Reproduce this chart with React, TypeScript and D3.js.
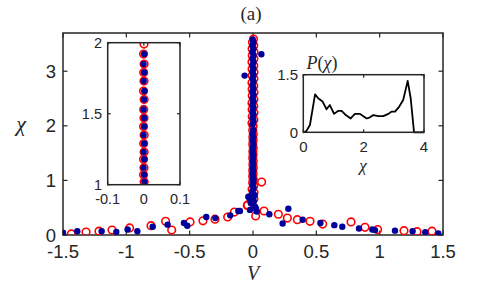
import React, { useEffect } from 'react';
import * as d3 from 'd3';

// scattered points (V, chi) away from the central column
const redScatter: [number, number][] = [
  [-1.434, 0.02], [-1.318, 0.055], [-1.216, 0.07], [-1.113, 0.09], [-0.974, 0.13],
  [-0.805, 0.17], [-0.69, 0.25], [-0.642, 0.09], [-0.497, 0.24], [-0.395, 0.26],
  [-0.3, 0.29], [-0.2, 0.33], [-0.147, 0.42], [-0.045, 0.54], [-0.042, 0.55],
  [0.021, 0.35], [0.068, 0.97], [0.087, 0.44], [0.2, 0.38], [0.271, 0.31],
  [0.35, 0.28], [0.45, 0.25], [0.55, 0.2], [0.774, 0.24], [0.884, 0.14],
  [0.984, 0.1], [1.192, 0.08], [1.295, 0.06], [1.413, 0.07],
];

const blueScatter: [number, number][] = [
  [-1.5, 0.04], [-1.387, 0.07], [-1.195, 0.07], [-1.079, 0.055], [-0.99, 0.1],
  [-0.913, 0.07], [-0.792, 0.15], [-0.674, 0.19], [-0.545, 0.22], [-0.519, 0.17],
  [-0.369, 0.33], [-0.297, 0.31], [-0.18, 0.36], [-0.116, 0.44], [-0.103, 0.44],
  [-0.037, 0.7], [0.003, 0.7], [-0.016, 0.58], [0.016, 0.52], [-0.024, 0.46],
  [0.03, 0.43], [-0.024, 0.65], [0.013, 0.73], [0.024, 0.48], [-0.066, 2.92],
  [0.066, 3.31], [0.129, 0.38], [0.234, 0.21], [0.279, 0.48], [0.392, 0.28],
  [0.532, 0.22], [0.642, 0.18], [0.705, 0.15], [0.837, 0.12], [0.942, 0.1],
  [0.963, 0.09], [1.121, 0.08], [1.26, 0.07], [1.36, 0.05], [1.463, 0.03],
];

// central column at V ~ 0
const colChiRed = [
  0.6, 0.66, 0.72, 0.78, 0.84, 0.9, 0.96, 1.02, 1.07, 1.12, 1.18, 1.23, 1.29, 1.35,
  1.41, 1.47, 1.53, 1.6, 1.66, 1.73, 1.79, 1.85, 1.92, 1.99, 2.05, 2.11, 2.17, 2.24,
  2.3, 2.36, 2.42, 2.48, 2.55, 2.61, 2.67, 2.73, 2.79, 2.86, 2.92, 2.98, 3.04, 3.1,
  3.17, 3.23, 3.29, 3.35, 3.41, 3.47, 3.53, 3.59,
];
const colVRed = [
  -0.008, 0.007, -0.006, 0.008, -0.007, 0.006, -0.003, 0.002, -0.002, 0.001, -0.002,
  0.002, -0.001, 0.002, -0.002, 0.001, -0.001, 0.002, -0.002, 0.001, -0.001, 0.002,
  -0.002, 0.001, -0.008, 0.007, -0.006, 0.008, -0.007, 0.006, -0.008, 0.007, -0.006,
  0.008, -0.007, 0.006, -0.008, 0.007, -0.006, 0.008, -0.007, 0.006, -0.008, 0.007,
  -0.006, 0.008, -0.007, 0.006, -0.004, 0.004,
];
const colChiBlue = [
  0.62, 0.68, 0.74, 0.8, 0.86, 0.92, 0.97, 1.02, 1.07, 1.12, 1.18, 1.23, 1.29, 1.35,
  1.41, 1.47, 1.53, 1.6, 1.66, 1.73, 1.79, 1.85, 1.92, 2.03, 2.09, 2.15, 2.21, 2.27,
  2.33, 2.39, 2.45, 2.51, 2.57, 2.63, 2.69, 2.75, 2.81, 2.87, 2.93, 2.99, 3.05, 3.11,
  3.17, 3.23, 3.29, 3.35, 3.41, 3.47, 3.53, 3.58,
];
const colVBlue = [
  0.006, -0.005, 0.004, -0.006, 0.005, -0.003, 0.002, 0.003, 0.001, -0.002, 0.002,
  -0.001, 0.002, -0.002, 0.001, 0.002, -0.002, 0.001, 0.003, -0.001, 0.002, -0.002,
  0.002, -0.004, 0.004, -0.003, 0.004, -0.004, 0.003, -0.004, 0.004, -0.003, 0.004,
  -0.004, 0.003, -0.004, 0.004, -0.003, 0.004, -0.004, 0.003, -0.004, 0.004, -0.003,
  0.004, -0.004, 0.003, -0.004, 0.003, -0.002,
];

// distribution P(chi)
const distChi = [
  0, 0.1, 0.22, 0.39, 0.5, 0.64, 0.77, 0.88, 1.02, 1.16, 1.27, 1.41, 1.57, 1.71, 1.88,
  1.99, 2.1, 2.21, 2.32, 2.49, 2.65, 2.82, 2.93, 3.04, 3.18, 3.31, 3.46, 3.56, 3.67, 4,
];
const distP = [
  0, 0.03, 0.19, 0.99, 0.88, 0.8, 0.6, 0.71, 0.48, 0.56, 0.56, 0.45, 0.36, 0.48, 0.48,
  0.42, 0.36, 0.39, 0.45, 0.42, 0.42, 0.48, 0.54, 0.54, 0.67, 0.84, 1.34, 0.88, 0, 0,
];

const mainXTicks = [-1.5, -1, -0.5, 0, 0.5, 1, 1.5];
const mainYTicks = [0, 1, 2, 3];
const zoomXTicks = [-0.1, 0, 0.1];
const zoomYTicks = [1, 1.5, 2];
const distXTicks = [0, 2, 4];
const distYTicks = [0, 1.5];

const AX = '#262626';
const RED = '#ff0000';
const BLUE = '#00009a';
const SANS = '"Liberation Sans", Arial, Helvetica, sans-serif';
const SERIF = '"Liberation Serif", "DejaVu Serif", serif';

const redCol: [number, number][] = colChiRed.map((c, i) => [colVRed[i], c]);
const blueCol: [number, number][] = colChiBlue.map((c, i) => [colVBlue[i], c]);

type Lin = d3.ScaleLinear<number, number>;

const Frame = ({ x, y, xt, yt, fs, tl, xlY, ylX, fill }: {
  x: Lin; y: Lin; xt: number[]; yt: number[]; fs: number; tl: number;
  xlY: number; ylX: number; fill?: string;
}) => {
  const [x0, x1] = x.range();
  const [y0, y1] = y.range();
  return (
    <g>
      <rect x={x0} y={y1} width={x1 - x0} height={y0 - y1} fill={fill || 'none'}
        stroke={AX} strokeWidth={1.5} />
      {xt.map(t => (
        <g key={'x' + t}>
          <line x1={x(t)} x2={x(t)} y1={y0} y2={y0 - tl} stroke={AX} strokeWidth={1.2} />
          <line x1={x(t)} x2={x(t)} y1={y1} y2={y1 + tl} stroke={AX} strokeWidth={1.2} />
          <text x={x(t)} y={xlY} textAnchor="middle" fontSize={fs} fill={AX}
            fontFamily={SANS}>{String(t)}</text>
        </g>
      ))}
      {yt.map(t => (
        <g key={'y' + t}>
          <line x1={x0} x2={x0 + tl} y1={y(t)} y2={y(t)} stroke={AX} strokeWidth={1.2} />
          <line x1={x1} x2={x1 - tl} y1={y(t)} y2={y(t)} stroke={AX} strokeWidth={1.2} />
          <text x={ylX} y={y(t)} dy="0.36em" textAnchor="end" fontSize={fs} fill={AX}
            fontFamily={SANS}>{String(t)}</text>
        </g>
      ))}
    </g>
  );
};

const App = () => {
  useEffect(() => {
    document.body.style.margin = '0';
  }, []);

  const x = d3.scaleLinear().domain([-1.5, 1.5]).range([63, 443]);
  const y = d3.scaleLinear().domain([0, 3.7]).range([235, 33]);
  const xi = d3.scaleLinear().domain([-0.1, 0.1]).range([107.7, 180]);
  const yi = d3.scaleLinear().domain([1, 2]).range([184.7, 42.7]);
  const xp = d3.scaleLinear().domain([0, 4]).range([303.3, 424]);
  const yp = d3.scaleLinear().domain([0, 1.5]).range([132.3, 74.7]);

  const line = d3.line<number>().x((_, i) => xp(distChi[i])).y(d => yp(d));

  const reds = [...redScatter, ...redCol];
  const blues = [...blueScatter, ...blueCol];

  return (
    <svg width={480} height={284} style={{ display: 'block', background: '#fff' }}>
      <defs>
        <clipPath id="main-clip">
          <rect x={63} y={33} width={380} height={202} />
        </clipPath>
        <clipPath id="zoom-clip">
          <rect x={107.7} y={42.7} width={72.3} height={142} />
        </clipPath>
      </defs>

      <text x={251} y={20} textAnchor="middle" fontSize={19} fontFamily={SERIF} fill={AX}>(a)</text>

      <Frame x={x} y={y} xt={mainXTicks} yt={mainYTicks} fs={18.5} tl={4.5} xlY={258} ylX={56} />

      <g clipPath="url(#main-clip)">
        {reds.map(([v, c], i) => (
          <circle key={'r' + i} cx={x(v)} cy={y(c)} r={3.8} fill="none" stroke={RED} strokeWidth={1.6} />
        ))}
        {blues.map(([v, c], i) => (
          <circle key={'b' + i} cx={x(v)} cy={y(c)} r={3.2} fill={BLUE} />
        ))}
      </g>

      <text x={21} y={131} textAnchor="middle" fontSize={22} fontStyle="italic"
        fontFamily={SERIF} fill={AX}>χ</text>
      <text x={253} y={280} textAnchor="middle" fontSize={20} fontStyle="italic"
        fontFamily={SERIF} fill={AX}>V</text>

      {/* zoom inset */}
      <rect x={107.7} y={42.7} width={72.3} height={142} fill="#fff" />
      <g clipPath="url(#zoom-clip)">
        {redCol.map(([v, c], i) => (
          <circle key={'zr' + i} cx={xi(v * 0.4)} cy={yi(c)} r={3.8} fill="#fff" stroke={RED} strokeWidth={1.6} />
        ))}
        {blueCol.map(([v, c], i) => (
          <circle key={'zb' + i} cx={xi(v * 0.4)} cy={yi(c)} r={3.2} fill={BLUE} />
        ))}
      </g>
      <Frame x={xi} y={yi} xt={zoomXTicks} yt={zoomYTicks} fs={14.5} tl={3} xlY={204} ylX={102} />

      {/* distribution inset */}
      <rect x={303.3} y={74.7} width={120.7} height={57.6} fill="#fff" />
      <path d={line(distP) || ''} fill="none" stroke="#000" strokeWidth={1.8} strokeLinejoin="round" />
      <Frame x={xp} y={yp} xt={distXTicks} yt={distYTicks} fs={15} tl={3} xlY={152} ylX={298} />
      <text x={322} y={69} textAnchor="middle" fontSize={18} fontFamily={SERIF} fill={AX}>
        <tspan fontStyle="italic">P</tspan>(<tspan fontStyle="italic">χ</tspan>)
      </text>
      <text x={363} y={171} textAnchor="middle" fontSize={17} fontStyle="italic"
        fontFamily={SERIF} fill={AX}>χ</text>
    </svg>
  );
};

export default App;
